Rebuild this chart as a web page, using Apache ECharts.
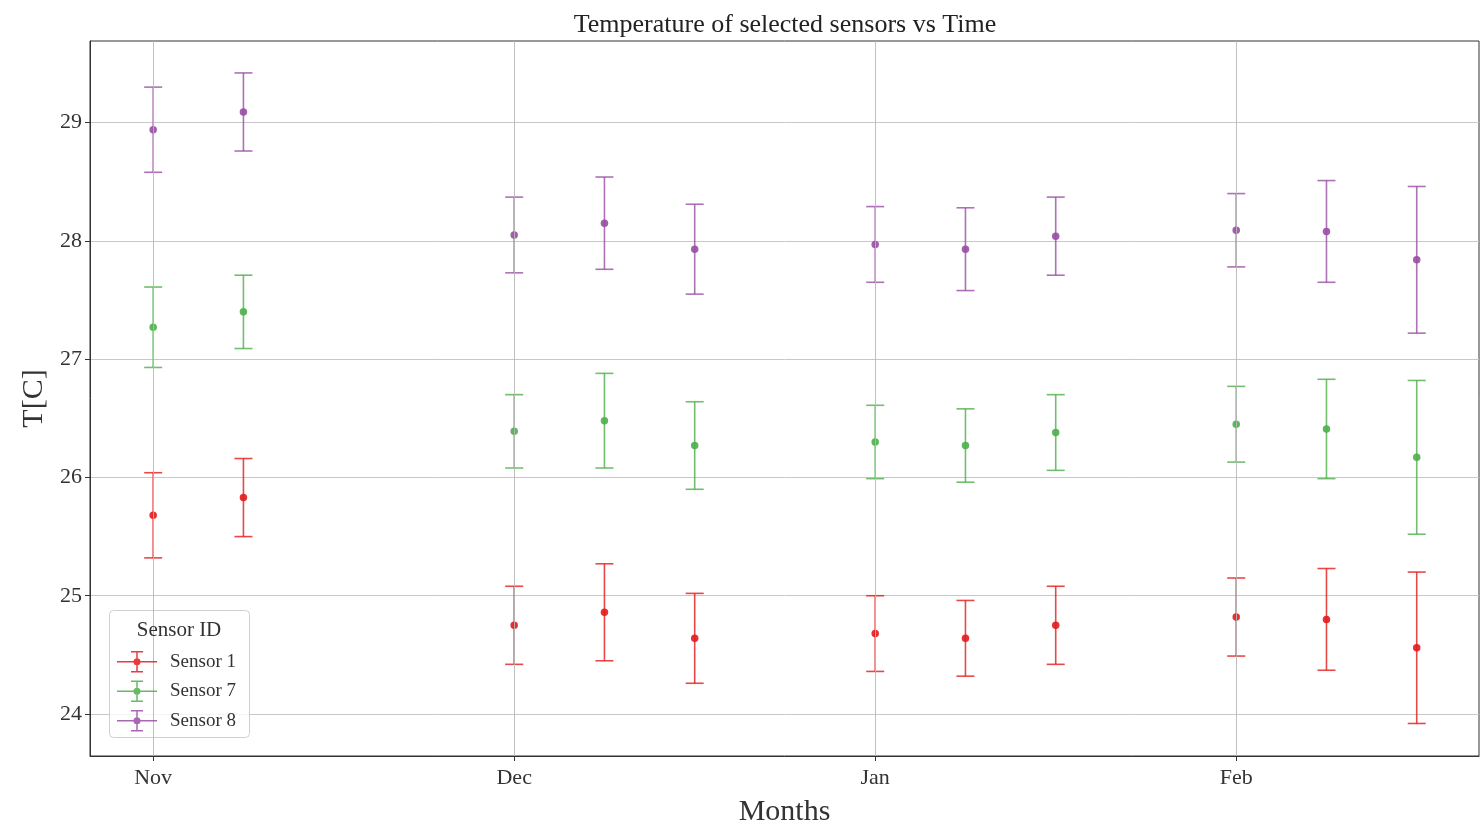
<!DOCTYPE html>
<html>
<head>
<meta charset="utf-8">
<script src="https://cdn.jsdelivr.net/npm/echarts@6/dist/echarts.min.js"></script>
<style>html,body{margin:0;padding:0;background:#fff;overflow:hidden}#c{width:1482px;height:826px;display:block}</style>
</head>
<body>
<div id="c"></div>
<script>
// ---- data ----
var xPositions = [0, 1, 4, 5, 6, 8, 9, 10, 12, 13, 14];
var monthTicks = [0, 4, 8, 12];
var monthLabels = ['Nov', 'Dec', 'Jan', 'Feb'];
var yTicks = [24, 25, 26, 27, 28, 29];
var seriesNames = ['Sensor 1', 'Sensor 7', 'Sensor 8'];
var sensor1Mean = [25.68, 25.83, 24.75, 24.86, 24.64, 24.68, 24.64, 24.75, 24.82, 24.80, 24.56];
var sensor1Err  = [0.36, 0.33, 0.33, 0.41, 0.38, 0.32, 0.32, 0.33, 0.33, 0.43, 0.64];
var sensor7Mean = [27.27, 27.40, 26.39, 26.48, 26.27, 26.30, 26.27, 26.38, 26.45, 26.41, 26.17];
var sensor7Err  = [0.34, 0.31, 0.31, 0.40, 0.37, 0.31, 0.31, 0.32, 0.32, 0.42, 0.65];
var sensor8Mean = [28.94, 29.09, 28.05, 28.15, 27.93, 27.97, 27.93, 28.04, 28.09, 28.08, 27.84];
var sensor8Err  = [0.36, 0.33, 0.32, 0.39, 0.38, 0.32, 0.35, 0.33, 0.31, 0.43, 0.62];
var colors = ['#e41a1c', '#4daf4a', '#984ea3'];

var means = [sensor1Mean, sensor7Mean, sensor8Mean];
var errs = [sensor1Err, sensor7Err, sensor8Err];
var FONT = '"Liberation Serif", "DejaVu Serif", serif';

var legendIcon = 'path://M0 11.25h40v1.5h-40Z M19.25 2h1.5v20h-1.5Z M14 1.25h12v1.5h-12Z M14 21.25h12v1.5h-12Z M16.5 12a3.5 3.5 0 1 1 7 0a3.5 3.5 0 1 1 -7 0Z';

function errRender(params, api) {
  var x = api.value(0), m = api.value(1), e = api.value(2);
  var top = api.coord([x, m + e]);
  var bot = api.coord([x, m - e]);
  var hw = 9;
  var style = {stroke: api.visual('color'), lineWidth: 1.6, opacity: 0.8};
  return {
    type: 'group',
    children: [
      {type: 'line', shape: {x1: top[0], y1: top[1], x2: bot[0], y2: bot[1]}, style: style},
      {type: 'line', shape: {x1: top[0] - hw, y1: top[1], x2: top[0] + hw, y2: top[1]}, style: style},
      {type: 'line', shape: {x1: bot[0] - hw, y1: bot[1], x2: bot[0] + hw, y2: bot[1]}, style: style}
    ]
  };
}

var series = [];
seriesNames.forEach(function (name, i) {
  var errData = xPositions.map(function (x, k) { return [x, means[i][k], errs[i][k]]; });
  var ptData = xPositions.map(function (x, k) { return [x, means[i][k]]; });
  series.push({
    name: name, type: 'custom', renderItem: errRender, data: errData,
    itemStyle: {color: colors[i]}, z: 3, silent: true,
    encode: {x: 0, y: [1]}
  });
  series.push({
    name: name, type: 'scatter', data: ptData, symbol: 'circle', symbolSize: 7.5,
    itemStyle: {color: colors[i], opacity: 0.9}, z: 4, silent: true
  });
});
// vertical grid lines at month ticks
series.push({
  type: 'line', data: [], silent: true,
  markLine: {
    silent: true, symbol: 'none', label: {show: false},
    lineStyle: {color: '#b8b8b8', width: 1, type: 'solid', opacity: 0.9},
    data: monthTicks.map(function (v) { return {xAxis: v}; })
  },
  z: 1
});

var chart = echarts.init(document.getElementById('c'), null, {renderer: 'canvas'});
chart.setOption({
  animation: false,
  backgroundColor: '#fff',
  title: [
    {text: 'Temperature of selected sensors vs Time', left: 780, top: 7, textAlign: 'center',
     textStyle: {fontFamily: FONT, fontSize: 26, fontWeight: 'normal', color: '#222'}},
    {text: 'Sensor ID', left: 174, top: 615, textAlign: 'center',
     textStyle: {fontFamily: FONT, fontSize: 21, fontWeight: 'normal', color: '#333'}}
  ],
  grid: {left: 90, right: 3, top: 41, bottom: 70, show: true, borderColor: '#333', borderWidth: 1,
    backgroundColor: 'transparent', containLabel: false, outerBoundsMode: 'none'},
  legend: {
    orient: 'vertical', left: 112, top: 646, itemWidth: 40, itemHeight: 24, itemGap: 8,
    icon: legendIcon,
    data: seriesNames.map(function (n, i) { return {name: n, itemStyle: {color: colors[i], opacity: 0.85}}; }),
    textStyle: {fontFamily: FONT, fontSize: 19, color: '#333', padding: [0, 0, 0, 8]},
    selectedMode: false, z: 6
  },
  xAxis: {
    type: 'value', min: -0.7, max: 14.69,
    axisLine: {show: true, onZero: false, lineStyle: {color: '#333', width: 1}},
    axisTick: {show: true, customValues: monthTicks, length: 5, lineStyle: {color: '#333'}},
    axisLabel: {customValues: monthTicks, margin: 11, fontFamily: FONT, fontSize: 22, color: '#333',
      formatter: function (v) { var k = monthTicks.indexOf(v); return k >= 0 ? monthLabels[k] : ''; }},
    splitLine: {show: false},
    name: 'Months', nameLocation: 'middle', nameGap: 41,
    nameTextStyle: {fontFamily: FONT, fontSize: 30, color: '#333'}
  },
  yAxis: {
    type: 'value', min: 23.645, max: 29.69,
    axisLine: {show: true, onZero: false, lineStyle: {color: '#333', width: 1}},
    axisTick: {show: true, customValues: yTicks, length: 5, lineStyle: {color: '#333'}},
    axisLabel: {customValues: yTicks, margin: 8, fontFamily: FONT, fontSize: 22, color: '#333'},
    splitLine: {show: true, lineStyle: {color: '#c8c8c8', width: 1}},
    name: 'T[C]', nameLocation: 'middle', nameGap: 39, nameRotate: 90,
    nameTextStyle: {fontFamily: FONT, fontSize: 30, color: '#333'}
  },
  graphic: [
    {type: 'rect', left: 109, top: 610, shape: {width: 140, height: 127, r: 4},
     style: {fill: 'rgba(255,255,255,0.8)', stroke: '#d0d0d0', lineWidth: 1}, z: 5}
  ],
  series: series
});
</script>
</body>
</html>
